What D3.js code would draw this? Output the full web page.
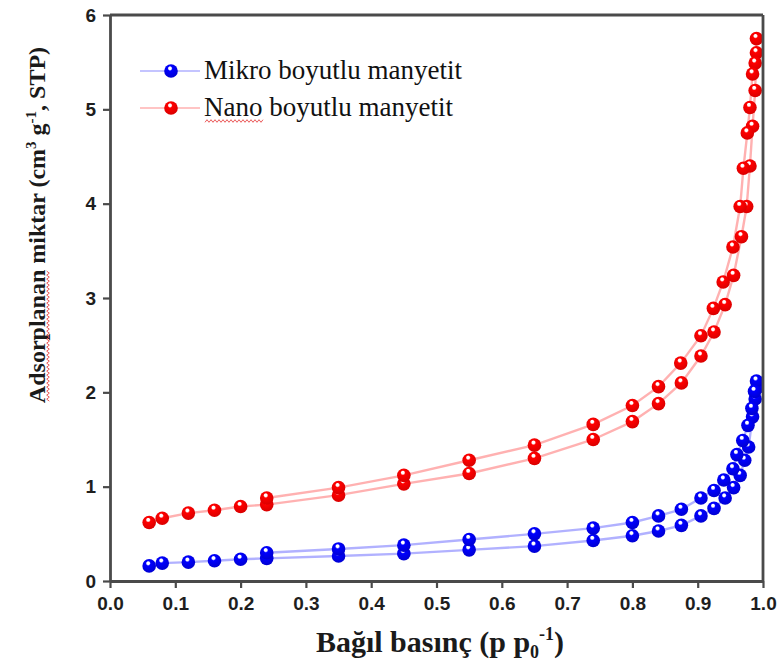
<!DOCTYPE html>
<html>
<head>
<meta charset="utf-8">
<script src="https://cdn.jsdelivr.net/npm/d3@7"></script>
<style>
  html, body { margin: 0; padding: 0; background: #fff; }
  svg { display: block; }
</style>
</head>
<body>
<svg id="chart" width="783" height="671"></svg>
<script>
// Relative pressure (p/p0) and adsorbed amount, adsorption then desorption branch
const microAdsP = [0.06, 0.08, 0.12, 0.16, 0.20, 0.24, 0.35, 0.45, 0.55, 0.65, 0.74, 0.80, 0.84, 0.875, 0.905, 0.925, 0.942, 0.955, 0.965, 0.972, 0.978, 0.984, 0.988, 0.991];
const microAdsV = [0.16, 0.19, 0.20, 0.215, 0.23, 0.24, 0.265, 0.29, 0.33, 0.37, 0.43, 0.48, 0.53, 0.59, 0.69, 0.77, 0.88, 0.99, 1.12, 1.28, 1.42, 1.74, 1.93, 2.05];
const microDesP = [0.99, 0.987, 0.983, 0.977, 0.969, 0.96, 0.954, 0.94, 0.925, 0.905, 0.875, 0.84, 0.80, 0.74, 0.65, 0.55, 0.45, 0.35, 0.24];
const microDesV = [2.12, 2.01, 1.83, 1.65, 1.49, 1.34, 1.19, 1.07, 0.96, 0.88, 0.76, 0.69, 0.62, 0.56, 0.50, 0.44, 0.38, 0.34, 0.30];

const nanoAdsP = [0.06, 0.08, 0.12, 0.16, 0.20, 0.24, 0.35, 0.45, 0.55, 0.65, 0.74, 0.80, 0.84, 0.875, 0.905, 0.925, 0.942, 0.955, 0.967, 0.975, 0.98, 0.984, 0.988, 0.99];
const nanoAdsV = [0.62, 0.665, 0.72, 0.75, 0.79, 0.81, 0.91, 1.03, 1.14, 1.30, 1.50, 1.69, 1.88, 2.10, 2.385, 2.64, 2.93, 3.24, 3.65, 3.97, 4.40, 4.82, 5.20, 5.60];
const nanoDesP = [0.99, 0.988, 0.984, 0.98, 0.976, 0.97, 0.965, 0.954, 0.939, 0.924, 0.905, 0.874, 0.84, 0.80, 0.74, 0.65, 0.55, 0.45, 0.35, 0.24];
const nanoDesV = [5.75, 5.49, 5.375, 5.02, 4.75, 4.375, 3.97, 3.54, 3.17, 2.89, 2.60, 2.31, 2.06, 1.86, 1.66, 1.44, 1.28, 1.12, 0.99, 0.88];

const xTicks = [0, 0.1, 0.2, 0.3, 0.4, 0.5, 0.6, 0.7, 0.8, 0.9, 1.0];
const yTicks = [0, 1, 2, 3, 4, 5, 6];
const seriesNames = ["Mikro boyutlu manyetit", "Nano boyutlu manyetit"];

const svg = d3.select("#chart");
const plot = { left: 110, right: 763, top: 15, bottom: 581 };

const x = d3.scaleLinear().domain([0, 1]).range([plot.left, plot.right]);
const y = d3.scaleLinear().domain([0, 6]).range([plot.bottom, plot.top]);

// sphere-like marker fills
const defs = svg.append("defs");
function ballGradient(id, base, dark) {
  const g = defs.append("radialGradient").attr("id", id)
    .attr("cx", "45%").attr("cy", "40%").attr("r", "62%")
    .attr("fx", "42%").attr("fy", "28%");
  g.append("stop").attr("offset", "0%").attr("stop-color", "#ffffff");
  g.append("stop").attr("offset", "16%").attr("stop-color", "#ffffff");
  g.append("stop").attr("offset", "30%").attr("stop-color", base);
  g.append("stop").attr("offset", "100%").attr("stop-color", dark);
}
ballGradient("ballBlue", "#0000ff", "#0000d0");
ballGradient("ballRed", "#ff0000", "#d80000");

function zip(ps, vs) { return ps.map((p, i) => ({ p, v: vs[i] })); }

const series = [
  { name: seriesNames[0], line: "rgba(70,70,255,0.42)", fill: "url(#ballBlue)",
    pts: zip(microAdsP, microAdsV).concat(zip(microDesP, microDesV)) },
  { name: seriesNames[1], line: "rgba(255,70,70,0.42)", fill: "url(#ballRed)",
    pts: zip(nanoAdsP, nanoAdsV).concat(zip(nanoDesP, nanoDesV)) }
];

const line = d3.line().x(d => x(d.p)).y(d => y(d.v));
const markerR = 6.8;

series.forEach(s => {
  svg.append("path").datum(s.pts)
    .attr("d", line).attr("fill", "none")
    .attr("stroke", s.line).attr("stroke-width", 2.4);
  svg.append("g").selectAll("circle").data(s.pts).join("circle")
    .attr("cx", d => x(d.p)).attr("cy", d => y(d.v)).attr("r", markerR)
    .attr("fill", s.fill);
});

// frame
const frameColor = "#4a4a4a";
svg.append("line").attr("x1", plot.left).attr("x2", plot.right).attr("y1", plot.top).attr("y2", plot.top)
  .attr("stroke", frameColor).attr("stroke-width", 2.8);
svg.append("line").attr("x1", plot.right).attr("x2", plot.right).attr("y1", plot.top).attr("y2", plot.bottom)
  .attr("stroke", frameColor).attr("stroke-width", 2.8);

// axes
const xAxis = svg.append("g").attr("transform", `translate(0,${plot.bottom})`)
  .call(d3.axisBottom(x).tickValues(xTicks).tickFormat(d3.format(".1f")).tickSize(7).tickPadding(9).tickSizeOuter(0));
const yAxis = svg.append("g").attr("transform", `translate(${plot.left},0)`)
  .call(d3.axisLeft(y).tickValues(yTicks).tickFormat(d3.format("d")).tickSize(7).tickPadding(7).tickSizeOuter(0));

[xAxis, yAxis].forEach(a => {
  a.select(".domain").attr("stroke", frameColor).attr("stroke-width", 2.8);
  a.selectAll(".tick line").attr("stroke", frameColor).attr("stroke-width", 2.2);
  a.selectAll(".tick text")
    .attr("font-family", "'Liberation Sans', Arial, sans-serif")
    .attr("font-weight", "bold").attr("font-size", 19).attr("fill", "#1e1e1e");
});

// red wavy underline
function squiggle(g, x0, x1, yy) {
  const pts = [];
  for (let xx = x0, k = 0; xx <= x1; xx += 2, k++) pts.push([xx, yy + (k % 2 ? -1.3 : 1.3)]);
  g.append("path").attr("d", d3.line()(pts)).attr("fill", "none")
    .attr("stroke", "#e84a4a").attr("stroke-width", 0.9);
}

// axis titles
const serif = "'Liberation Serif', 'Times New Roman', serif";
const xt = svg.append("text").attr("x", 440).attr("y", 652)
  .attr("text-anchor", "middle").attr("font-family", serif)
  .attr("font-weight", "bold").attr("font-size", 30).attr("fill", "#1a1a1a");
xt.append("tspan").text("Bağıl basınç (p p");
xt.append("tspan").attr("font-size", 18).attr("dy", 6).text("0");
xt.append("tspan").attr("font-size", 18).attr("dy", -18).text("-1");
xt.append("tspan").attr("dy", 12).text(")");

const ytG = svg.append("g").attr("transform", "translate(45,225) rotate(-90)");
const yt = ytG.append("text")
  .attr("text-anchor", "middle").attr("font-family", serif)
  .attr("font-weight", "bold").attr("font-size", 24).attr("fill", "#1a1a1a");
const ytFirst = yt.append("tspan").text("Adsorplanan miktar (cm");
yt.append("tspan").attr("font-size", 15).attr("dy", -9).text("3");
yt.append("tspan").attr("dy", 9).text(" g");
yt.append("tspan").attr("font-size", 15).attr("dy", -9).text("-1");
yt.append("tspan").attr("dy", 9).text(", STP)");
{
  const total = yt.node().getComputedTextLength();
  const wordLen = ytFirst.node().getSubStringLength(0, 11);
  const start = -total / 2;
  squiggle(ytG, start + 2, start + wordLen, 3);
}

// legend
const legend = svg.append("g");
series.forEach((s, i) => {
  const cy = 71 + i * 37;
  const sample = [{ p: 0, v: 0 }];
  legend.append("line").attr("x1", 140).attr("x2", 200).attr("y1", cy).attr("y2", cy)
    .attr("stroke", s.line).attr("stroke-width", 1.6);
  legend.selectAll(null).data(sample).join("circle")
    .attr("cx", 171).attr("cy", cy).attr("r", markerR).attr("fill", s.fill);
  const t = legend.append("text").attr("x", 204).attr("y", cy + 8)
    .attr("font-family", serif).attr("font-size", 27).attr("fill", "#111")
    .text(s.name);
  if (i === 1) {
    const w = t.node().getSubStringLength(0, 4);
    squiggle(legend, 205, 205 + w, cy + 13);
  }
});
</script>
</body>
</html>
